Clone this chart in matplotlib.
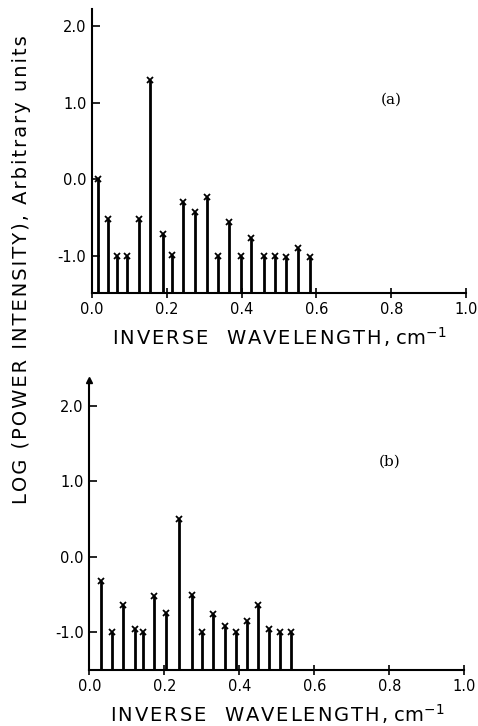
"""
Power spectra of two records, log power intensity vs inverse wavelength
"""

### Import modules
import numpy as np
import matplotlib
matplotlib.use('Agg')
import matplotlib.pyplot as plt

### Spectral lines, panel (a)
freq_a = [0.015, 0.044, 0.068, 0.094, 0.126, 0.156, 0.189, 0.214, 0.244, 0.275,
          0.307, 0.338, 0.367, 0.397, 0.426, 0.459, 0.488, 0.518, 0.550, 0.582]
logp_a = [0.01, -0.51, -1.0, -1.0, -0.51, 1.29, -0.71, -0.99, -0.29, -0.43,
          -0.23, -1.0, -0.55, -1.0, -0.76, -1.0, -1.0, -1.01, -0.89, -1.01]

### Spectral lines, panel (b)
freq_b = [0.030, 0.060, 0.091, 0.121, 0.144, 0.173, 0.205, 0.240, 0.273,
          0.301, 0.331, 0.362, 0.392, 0.421, 0.451, 0.479, 0.509, 0.539]
logp_b = [-0.33, -1.0, -0.64, -0.97, -1.01, -0.52, -0.75, 0.50, -0.51,
          -1.0, -0.77, -0.93, -1.0, -0.86, -0.64, -0.97, -1.0, -1.0]

xticks = [0.0, 0.2, 0.4, 0.6, 0.8, 1.0]
xticklabels = ['0.0', '0.2', '0.4', '0.6', '0.8', '1.0']
yticks = [-1.0, 0.0, 1.0, 2.0]
yticklabels = ['-1.0', '0.0', '1.0', '2.0']

### Widely tracked lettering, like the old stencil labels
def track(s):
    return '\u200a'.join(s)

xlabel = track('INVERSE  WAVELENGTH,') + r' cm$^{-1}$'
ylabel = track('LOG (POWER INTENSITY), Arbitrary units')

plt.rc('font', family='DejaVu Sans')

fig = plt.figure(figsize=(4.78, 7.26), dpi=100)

def spectrum(rect, freq, logp, ylims, tag, tagy, arrow=False):
    ax = fig.add_axes(rect)
    ax.vlines(freq, ylims[0], logp, color='black', linewidth=2.0)
    ax.plot(freq, logp, linestyle='none', marker='x', color='black',
            markersize=4, markeredgewidth=1.3)
    ax.set_xlim(0, 1.0)
    ax.set_ylim(ylims)
    ax.spines['top'].set_visible(False)
    ax.spines['right'].set_visible(False)
    ax.spines['left'].set_linewidth(1.5)
    ax.spines['bottom'].set_linewidth(1.5)
    ax.set_xticks(xticks)
    ax.set_xticklabels(xticklabels, fontsize=10.5)
    ax.set_yticks(yticks)
    ax.set_yticklabels(yticklabels, fontsize=10.5)
    ax.tick_params(axis='x', direction='inout', length=7, width=1.2, pad=3)
    ax.tick_params(axis='y', direction='in', length=6, width=1.2, pad=4)
    ax.set_xlabel(xlabel, fontsize=14, labelpad=6)
    ax.text(0.80, tagy, tag, transform=ax.transAxes, fontsize=11,
            family='DejaVu Serif', ha='center', va='center')
    if arrow:
        ax.plot([0], [ylims[1]], marker='^', color='black', markersize=4,
                clip_on=False)
    return ax

ax1 = spectrum([0.1925, 0.5964, 0.7825, 0.3912], freq_a, logp_a,
               (-1.48, 2.22), '(a)', 0.68)
ax2 = spectrum([0.187, 0.0771, 0.784, 0.3995], freq_b, logp_b,
               (-1.51, 2.35), '(b)', 0.72, arrow=True)

fig.text(0.045, 0.628, ylabel, rotation=90, fontsize=14,
         ha='center', va='center')

plt.savefig('out.png', dpi=100)
